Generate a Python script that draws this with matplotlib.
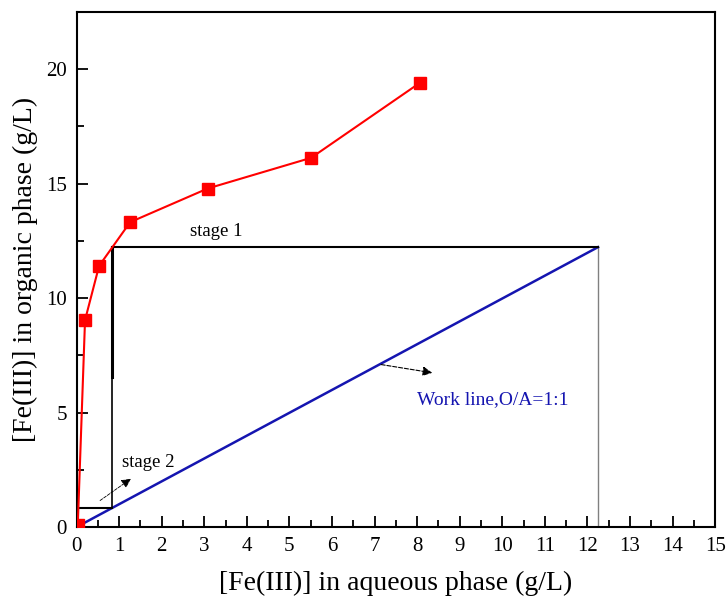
import matplotlib
matplotlib.use("Agg")
import matplotlib.pyplot as plt
from matplotlib.ticker import MultipleLocator

plt.rcParams['font.family'] = ['Liberation Serif', 'DejaVu Serif']

# equilibrium data
aq = [0.03, 0.2, 0.53, 1.26, 3.08, 5.51, 8.06]
org = [0.1, 9.04, 11.41, 13.32, 14.79, 16.13, 19.40]

# operating (work) line, O/A = 1:1
work_x = [0, 12.25]
work_y = [0, 12.23]

# McCabe-Thiele steps
step1_x = [12.25, 0.84]
step1_y = [12.23, 12.23]
step_vert_x = [0.84, 0.84]
step_vert_y = [12.23, 0.84]
step2_x = [0.84, 0.0]
step2_y = [0.84, 0.84]
feed_x = [12.25, 12.25]
feed_y = [12.23, 0]

fig = plt.figure(figsize=(7.26, 6.01), dpi=100)
ax = fig.add_axes([0.1054, 0.123, 0.8796, 0.857])

ax.plot(feed_x, feed_y, color="gray", lw=1.0)
ax.plot(work_x, work_y, color="#1515b0", lw=1.8)
ax.plot(step1_x, step1_y, color="black", lw=1.5)
ax.plot(step_vert_x, step_vert_y, color="black", lw=1.2)
ax.plot([0.84, 0.84], [12.23, 6.55], color="black", lw=2.2)
ax.plot(step2_x, step2_y, color="black", lw=1.5)
ax.plot(aq, org, color="red", lw=1.5, marker="s", markersize=9, zorder=5)

ax.annotate("", xy=(1.33, 2.18), xytext=(0.5, 1.09),
            arrowprops=dict(arrowstyle="-|>", color="black", lw=0.6, ls="--",
                            mutation_scale=14))
ax.text(1.07, 2.8, "stage 2", fontsize=13.5, va="center", ha="left")
ax.text(2.67, 12.9, "stage 1", fontsize=13.5, va="center", ha="left")
ax.annotate("", xy=(8.42, 6.72), xytext=(7.09, 7.12),
            arrowprops=dict(arrowstyle="-|>", color="black", lw=0.8, ls="--",
                            mutation_scale=14))
ax.text(8.0, 5.59, "Work line,O/A=1:1", fontsize=14, va="center", ha="left",
        color="#1515b0")

ax.set_xlim(0, 15)
ax.set_ylim(0, 22.5)
ax.xaxis.set_major_locator(MultipleLocator(1))
ax.xaxis.set_minor_locator(MultipleLocator(0.5))
ax.yaxis.set_major_locator(MultipleLocator(5))
ax.yaxis.set_minor_locator(MultipleLocator(2.5))
ax.tick_params(which="both", direction="in", top=False, right=False, width=1.3)
ax.tick_params(which="major", length=8, labelsize=15, pad=7)
ax.tick_params(which="minor", length=5)
for s in ax.spines.values():
    s.set_linewidth(1.5)

ax.set_xlabel("[Fe(III)] in aqueous phase (g/L)", fontsize=20, labelpad=11)
ax.set_ylabel("[Fe(III)] in organic phase (g/L)", fontsize=20, labelpad=6)

fig.savefig("out.png", dpi=100)
